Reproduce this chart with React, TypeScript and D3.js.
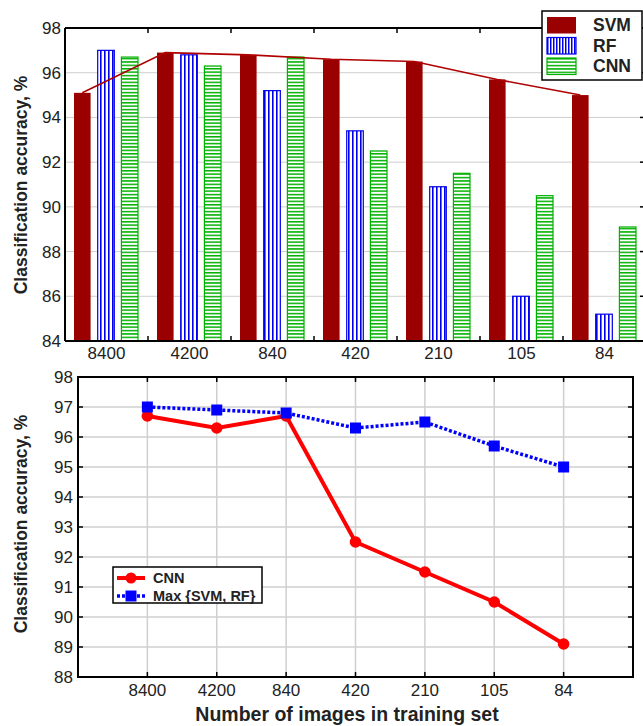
import React from 'react';
import * as d3 from 'd3';

const categories = ['8400', '4200', '840', '420', '210', '105', '84'];
const series = ['SVM', 'RF', 'CNN'];
const svmValues = [95.1, 96.9, 96.8, 96.6, 96.5, 95.7, 95.0];
const rfValues = [97.0, 96.8, 95.2, 93.4, 90.9, 86.0, 85.2];
const cnnValues = [96.7, 96.3, 96.7, 92.5, 91.5, 90.5, 89.1];
const maxSvmRfValues = [97.0, 96.9, 96.8, 96.3, 96.5, 95.7, 95.0];
const topTicks = [84, 86, 88, 90, 92, 94, 96, 98];
const bottomTicks = [88, 89, 90, 91, 92, 93, 94, 95, 96, 97, 98];

const font = '"Liberation Sans", Arial, sans-serif';
const colors = { SVM: '#9b0000', RF: '#0000ee', CNN: '#00b000' };
const fills = { SVM: colors.SVM, RF: 'url(#rfPat)', CNN: 'url(#cnnPat)' };
const grid = '#cfcfcf';

const W = 643;
const H = 726;

// top chart frame
const top = { left: 65, right: 646, top: 28, bottom: 341 };
// bottom chart frame
const bot = { left: 78, right: 633, top: 377, bottom: 677 };

export default function App() {
  const xTop = d3.scaleBand().domain(categories).range([top.left, top.right]);
  const xSub = d3.scaleBand().domain(series).range([9, 73]).paddingInner(0.3);
  const yTop = d3.scaleLinear().domain([84, 98]).range([top.bottom, top.top]);

  const valuesBySeries = { SVM: svmValues, RF: rfValues, CNN: cnnValues };

  const svmLine = d3
    .line<number>()
    .x((d, i) => xTop(categories[i])! + xSub('SVM')! + xSub.bandwidth() / 2)
    .y(d => yTop(d));

  const xBot = d3.scalePoint().domain(categories).range([bot.left, bot.right]).padding(1);
  const yBot = d3.scaleLinear().domain([88, 98]).range([bot.bottom, bot.top]);
  const lineBot = d3
    .line<number>()
    .x((d, i) => xBot(categories[i])!)
    .y(d => yBot(d));

  return (
    <svg
      width={W}
      height={H}
      style={{ position: 'absolute', left: 0, top: 0, background: '#fff' }}
      fontFamily={font}
    >
      <defs>
        <pattern id="rfPat" width={4} height={4} patternUnits="userSpaceOnUse">
          <rect width={4} height={4} fill="#fff" />
          <rect width={1.6} height={4} fill={colors.RF} />
        </pattern>
        <pattern id="cnnPat" width={3.4} height={3.4} patternUnits="userSpaceOnUse">
          <rect width={3.4} height={3.4} fill="#fff" />
          <rect width={3.4} height={1.5} fill={colors.CNN} />
        </pattern>
        <pattern id="rfPatLeg" width={3} height={3} patternUnits="userSpaceOnUse">
          <rect width={3} height={3} fill="#fff" />
          <rect width={1.5} height={3} fill={colors.RF} />
        </pattern>
      </defs>

      {/* ---------- top bar chart ---------- */}
      <g>
        {topTicks.map(t => (
          <line key={t} x1={top.left} x2={top.right} y1={yTop(t)} y2={yTop(t)} stroke={grid} strokeWidth={1} />
        ))}
        {categories.map((c, i) =>
          series.map(s => {
            const v = valuesBySeries[s][i];
            const x = xTop(c)! + xSub(s)!;
            return (
              <rect
                key={c + s}
                x={x}
                y={yTop(v)}
                width={xSub.bandwidth()}
                height={yTop(84) - yTop(v)}
                fill={fills[s]}
                stroke={colors[s]}
                strokeWidth={s === 'SVM' ? 0 : 1.2}
              />
            );
          })
        )}
        <path d={svmLine(svmValues)!} fill="none" stroke="#b00000" strokeWidth={1.6} />

        {/* frame */}
        <line x1={top.left} x2={top.right} y1={top.top} y2={top.top} stroke="#000" strokeWidth={2} />
        <line x1={top.left} x2={top.right} y1={top.bottom} y2={top.bottom} stroke="#000" strokeWidth={2} />
        <line x1={top.left} x2={top.left} y1={top.top} y2={top.bottom} stroke="#000" strokeWidth={2} />
        {categories.slice(1).map(c => (
          <g key={c}>
            <line x1={xTop(c)} x2={xTop(c)} y1={top.top} y2={top.top + 5} stroke="#000" strokeWidth={1.5} />
            <line x1={xTop(c)} x2={xTop(c)} y1={top.bottom} y2={top.bottom - 5} stroke="#000" strokeWidth={1.5} />
          </g>
        ))}
        {topTicks.map(t => (
          <line key={t} x1={top.right - 6} x2={top.right - 2} y1={yTop(t)} y2={yTop(t)} stroke="#000" strokeWidth={1.5} />
        ))}
        {topTicks.map(t => (
          <text key={t} x={top.left - 4} y={yTop(t)} dy="0.35em" textAnchor="end" fontSize={17} fill="#222">
            {t}
          </text>
        ))}
        {categories.map(c => (
          <text key={c} x={xTop(c)! + xTop.bandwidth() / 2} y={359} textAnchor="middle" fontSize={17} fill="#222">
            {c}
          </text>
        ))}
        <text
          transform={`translate(27,185) rotate(-90)`}
          textAnchor="middle"
          fontSize={17.5}
          fontWeight="bold"
          fill="#222"
        >
          Classification accuracy, %
        </text>

        {/* legend */}
        <rect x={542} y={11} width={100} height={69} fill="#fff" stroke="#000" strokeWidth={1.5} />
        {series.map((s, i) => (
          <g key={s} transform={`translate(547,${17 + i * 20.5})`}>
            <rect
              width={29}
              height={16.5}
              fill={s === 'RF' ? 'url(#rfPatLeg)' : fills[s]}
              stroke={colors[s]}
              strokeWidth={s === 'SVM' ? 0 : 1.2}
            />
            <text x={46} y={14} fontSize={17.5} fontWeight="bold" fill="#222">
              {s}
            </text>
          </g>
        ))}
      </g>

      {/* ---------- bottom line chart ---------- */}
      <g>
        {bottomTicks.map(t => (
          <line key={t} x1={bot.left} x2={bot.right} y1={yBot(t)} y2={yBot(t)} stroke={grid} strokeWidth={1.5} />
        ))}
        {categories.map(c => (
          <line key={c} x1={xBot(c)} x2={xBot(c)} y1={bot.top} y2={bot.bottom} stroke={grid} strokeWidth={1.5} />
        ))}
        {categories.map(c => (
          <g key={c}>
            <line x1={xBot(c)} x2={xBot(c)} y1={bot.top} y2={bot.top + 5} stroke="#000" strokeWidth={1.5} />
            <line x1={xBot(c)} x2={xBot(c)} y1={bot.bottom} y2={bot.bottom - 5} stroke="#000" strokeWidth={1.5} />
          </g>
        ))}
        {bottomTicks.map(t => (
          <g key={t}>
            <line x1={bot.right} x2={bot.right - 5} y1={yBot(t)} y2={yBot(t)} stroke="#000" strokeWidth={1.5} />
            <line x1={bot.left} x2={bot.left + 5} y1={yBot(t)} y2={yBot(t)} stroke="#000" strokeWidth={1.5} />
          </g>
        ))}
        <rect
          x={bot.left}
          y={bot.top}
          width={bot.right - bot.left}
          height={bot.bottom - bot.top}
          fill="none"
          stroke="#000"
          strokeWidth={2}
        />

        <path d={lineBot(maxSvmRfValues)!} fill="none" stroke="#0000ff" strokeWidth={3.5} strokeDasharray="3,2" />
        <path d={lineBot(cnnValues)!} fill="none" stroke="#ff0000" strokeWidth={4} />
        {cnnValues.map((v, i) => (
          <circle key={i} cx={xBot(categories[i])} cy={yBot(v)} r={5.8} fill="#ff0000" />
        ))}
        {maxSvmRfValues.map((v, i) => (
          <rect key={i} x={xBot(categories[i])! - 5.5} y={yBot(v) - 5.5} width={11} height={11} fill="#0000ff" />
        ))}

        {bottomTicks.map(t => (
          <text key={t} x={bot.left - 5} y={yBot(t)} dy="0.35em" textAnchor="end" fontSize={17} fill="#222">
            {t}
          </text>
        ))}
        {categories.map(c => (
          <text key={c} x={xBot(c)} y={696} textAnchor="middle" fontSize={17} fill="#222">
            {c}
          </text>
        ))}
        <text
          transform={`translate(27,524) rotate(-90)`}
          textAnchor="middle"
          fontSize={17.5}
          fontWeight="bold"
          fill="#222"
        >
          Classification accuracy, %
        </text>
        <text x={347} y={721} textAnchor="middle" fontSize={19.5} fontWeight="bold" fill="#222">
          Number of images in training set
        </text>

        {/* legend */}
        <rect x={113} y={567} width={149} height={36} fill="#fff" stroke="#000" strokeWidth={1.5} />
        <g transform="translate(117,578)">
          <line x1={0} x2={28} stroke="#ff0000" strokeWidth={4} />
          <circle cx={14} r={5.5} fill="#ff0000" />
          <text x={36} y={5} fontSize={14.5} fontWeight="bold" fill="#222">
            CNN
          </text>
        </g>
        <g transform="translate(117,596)">
          <line x1={0} x2={28} stroke="#0000ff" strokeWidth={3.5} strokeDasharray="3,2" />
          <rect x={8.5} y={-5.5} width={11} height={11} fill="#0000ff" />
          <text x={36} y={5} fontSize={14.5} fontWeight="bold" fill="#222">
            Max {'{'}SVM, RF{'}'}
          </text>
        </g>
      </g>
    </svg>
  );
}
